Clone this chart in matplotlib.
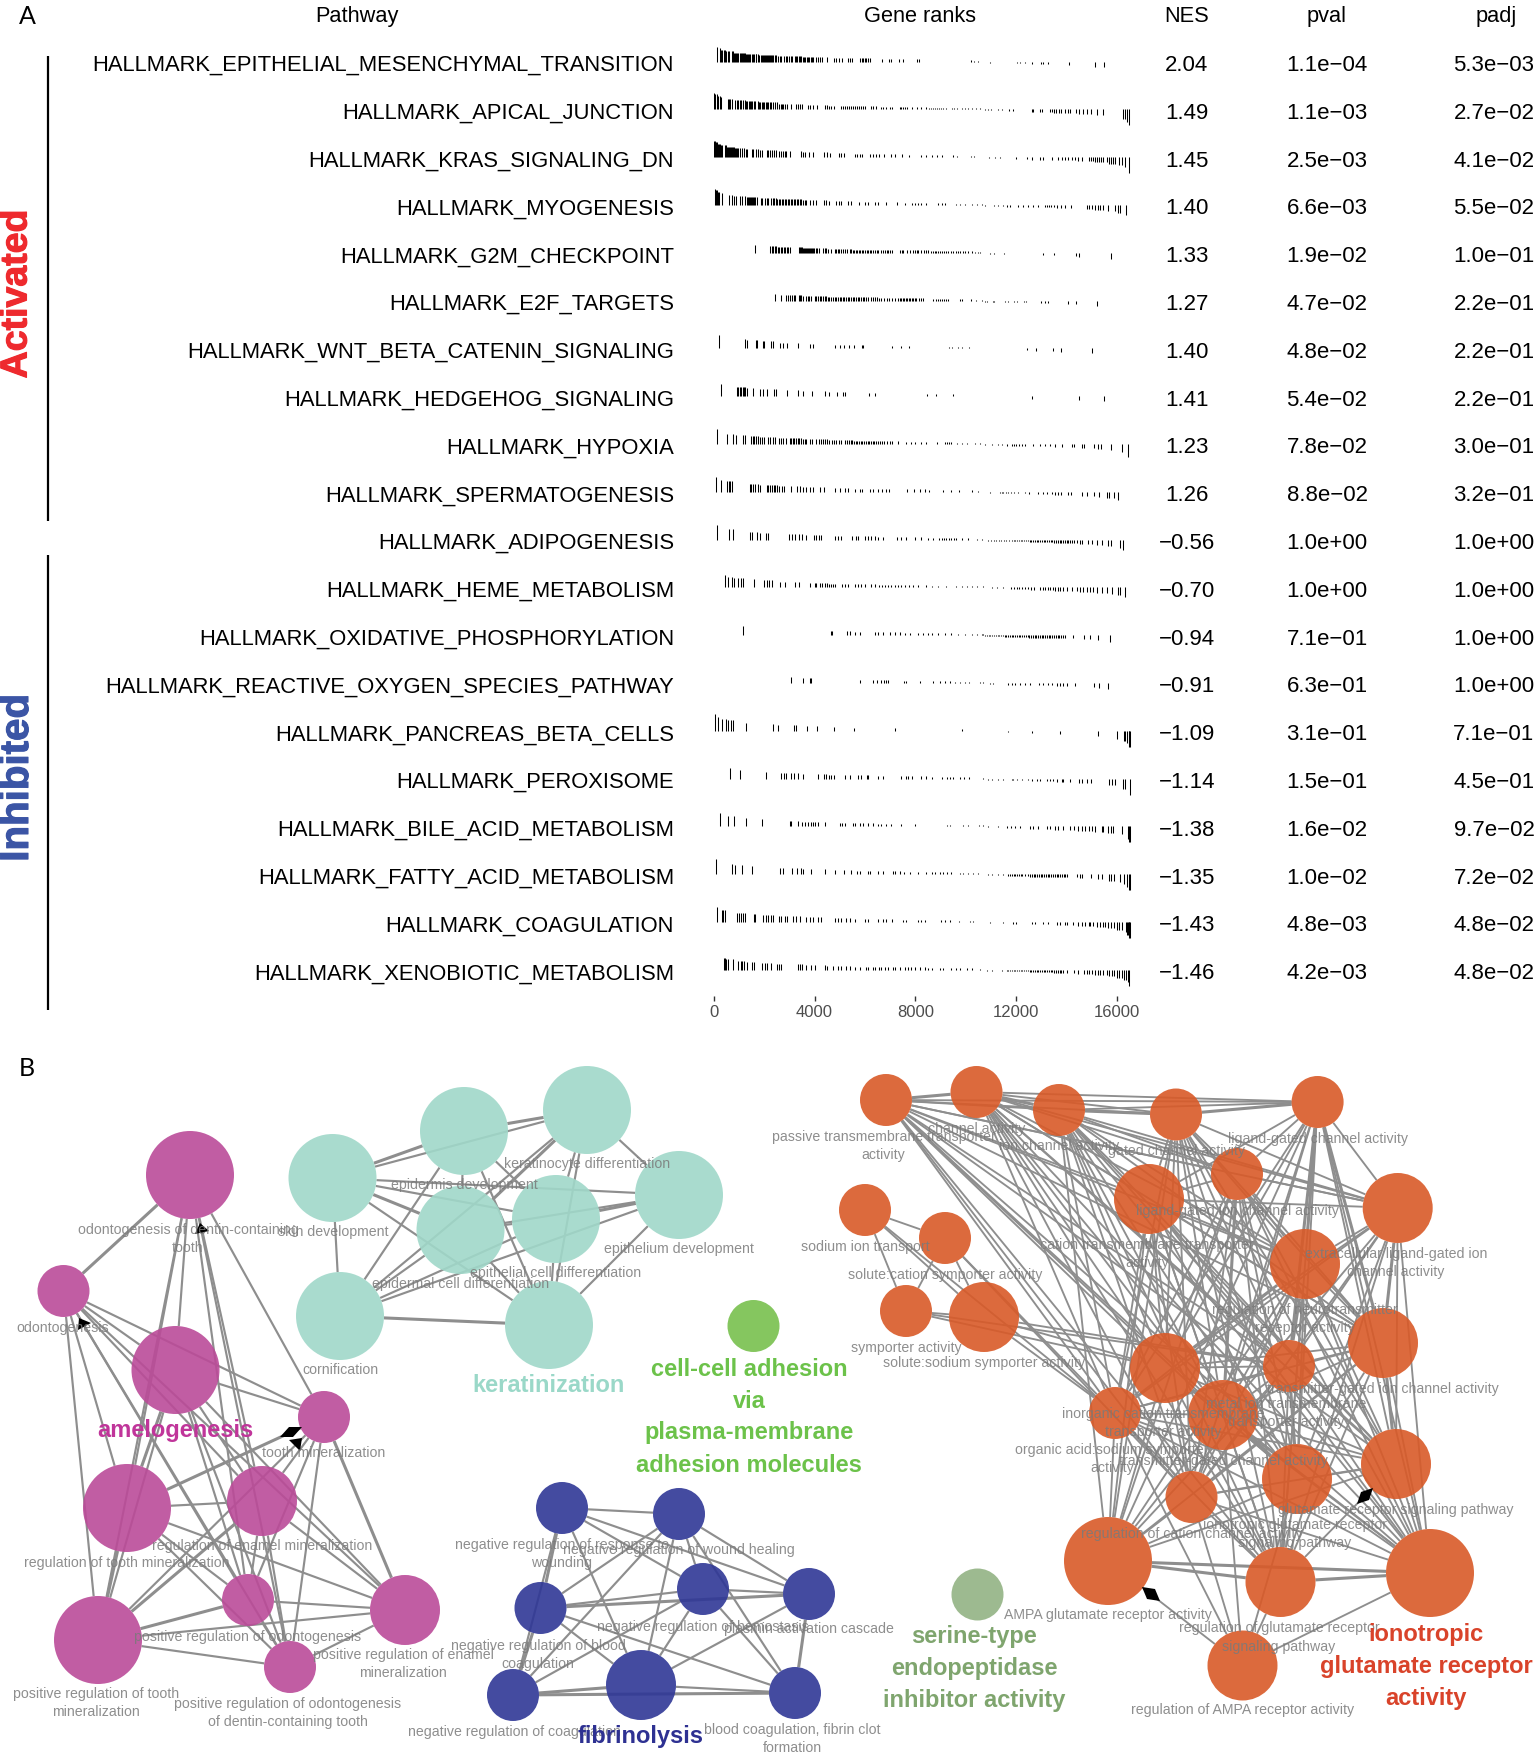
import itertools
import numpy as np
import matplotlib
matplotlib.use("Agg")
import matplotlib.pyplot as plt
import matplotlib.patheffects as pe
from matplotlib.collections import LineCollection
from matplotlib.markers import MarkerStyle
from matplotlib.patches import Circle
from matplotlib.transforms import Affine2D

W, H = 1535, 1753

PATHWAYS = ["HALLMARK_EPITHELIAL_MESENCHYMAL_TRANSITION", "HALLMARK_APICAL_JUNCTION", "HALLMARK_KRAS_SIGNALING_DN",
            "HALLMARK_MYOGENESIS", "HALLMARK_G2M_CHECKPOINT", "HALLMARK_E2F_TARGETS",
            "HALLMARK_WNT_BETA_CATENIN_SIGNALING", "HALLMARK_HEDGEHOG_SIGNALING", "HALLMARK_HYPOXIA",
            "HALLMARK_SPERMATOGENESIS", "HALLMARK_ADIPOGENESIS", "HALLMARK_HEME_METABOLISM",
            "HALLMARK_OXIDATIVE_PHOSPHORYLATION", "HALLMARK_REACTIVE_OXYGEN_SPECIES_PATHWAY",
            "HALLMARK_PANCREAS_BETA_CELLS", "HALLMARK_PEROXISOME", "HALLMARK_BILE_ACID_METABOLISM",
            "HALLMARK_FATTY_ACID_METABOLISM", "HALLMARK_COAGULATION", "HALLMARK_XENOBIOTIC_METABOLISM"]
NES = ["2.04", "1.49", "1.45", "1.40", "1.33", "1.27", "1.40", "1.41", "1.23", "1.26",
       "−0.56", "−0.70", "−0.94", "−0.91", "−1.09", "−1.14", "−1.38", "−1.35", "−1.43", "−1.46"]
PVAL = ["1.1e−04", "1.1e−03", "2.5e−03", "6.6e−03", "1.9e−02", "4.7e−02", "4.8e−02", "5.4e−02", "7.8e−02", "8.8e−02",
        "1.0e+00", "1.0e+00", "7.1e−01", "6.3e−01", "3.1e−01", "1.5e−01", "1.6e−02", "1.0e−02", "4.8e−03", "4.2e−03"]
PADJ = ["5.3e−03", "2.7e−02", "4.1e−02", "5.5e−02", "1.0e−01", "2.2e−01", "2.2e−01", "2.2e−01", "3.0e−01", "3.2e−01",
        "1.0e+00", "1.0e+00", "1.0e+00", "1.0e+00", "7.1e−01", "4.5e−01", "9.7e−02", "7.2e−02", "4.8e−02", "4.8e−02"]

METRIC_RANK = [0, 100, 200, 350, 600, 1000, 1500, 2000, 3000, 4000, 5000, 6000, 7000, 8000, 9000, 10000, 10500, 11000,
               12000, 13000, 14000, 14800, 15400, 15800, 16100, 16300, 16430, 16500]
METRIC_VAL = [16.5, 15, 13.5, 12, 10.5, 9, 8, 7, 5.8, 4.8, 3.8, 3.2, 2.8, 2.4, 1.9, 1.4, 1.0, 1.0,
              1.6, 2.4, 3.2, 4.2, 5.2, 6.3, 8, 10, 12.5, 16]
METRIC_SIGN_FLIP = 10750

R01 = [120,250,290,330,385,425,490,555,595,740,780,820,860,900,940,980,1020,1060,1100,1140,1190,1245,1285,1325,1365,1405,1445,1535,1575,1615,1655,1685,1750,1800,1855,1910,1950,1985,2025,2065,2105,2145,2185,2225,2265,2305,2345,2410,2480,2545,2610,2675,2780,2850,2915,2970,3050,3115,3205,3260,3310,3365,3420,3470,3525,3580,3630,3685,3735,3790,3840,3895,3950,4070,4135,4215,4295,4490,4770,4850,4970,5090,5325,5420,5485,5815,5870,5925,5990,6055,6120,6190,6690,6955,7020,7355,7525,8070,8135,10200,10310,10470,10970,12020,12150,12350,12640,12970,13050,13280,14085,15130,15480]
R02 = [0,65,130,185,240,280,555,610,660,715,850,915,980,1035,1085,1165,1220,1270,1325,1380,1430,1485,1535,1590,1645,1750,1790,1840,1895,1950,2000,2055,2105,2160,2215,2280,2345,2410,2490,2570,2650,2705,2755,2810,2900,3060,3260,3340,3420,3500,3735,3815,3935,4110,4400,4480,4560,4665,4755,5035,5115,5220,5300,5380,5460,5540,5620,5700,5775,5855,5935,6015,6255,6335,6450,6650,6730,6850,6985,7075,7380,7445,7525,7605,7685,7870,8055,8240,8440,8535,8610,8690,8770,8850,8930,9010,9090,9195,9460,9540,9670,9830,9965,10095,10230,10390,10560,10760,10890,11000,11290,11420,11715,11885,12615,12680,12945,13040,13345,13435,13515,13595,13700,13780,13940,14070,14140,14365,14495,14670,14800,14970,15225,15425,16220,16300,16390,16480]
R03 = [0,40,80,120,160,200,240,280,320,430,470,510,560,600,640,680,720,760,800,850,900,940,980,1030,1100,1180,1260,1320,1500,1570,1690,1750,1820,1900,2100,2170,2240,2310,2380,2450,2600,2670,2740,2810,2880,3010,3470,3550,3630,3770,3950,4370,4480,4600,4950,5060,5170,5590,5700,5790,5880,6190,6320,6450,6550,6740,7050,7180,7450,7740,8240,8440,8640,8840,9060,9500,9670,10190,10330,10920,11160,11350,11990,12420,12610,12950,13080,13430,13670,13800,13930,14070,14200,14330,14470,14600,14900,14980,15060,15130,15200,15280,15350,15430,15600,15680,15750,15830,15910,16060,16190,16300,16480]
R04 = [30,80,120,170,200,320,620,715,815,900,1020,1115,1220,1320,1360,1400,1440,1480,1520,1560,1600,1640,1700,1855,1910,2015,2095,2150,2280,2340,2400,2460,2520,2580,2640,2700,2760,2820,2880,2940,3000,3060,3120,3180,3240,3300,3360,3420,3480,3540,3600,3670,3800,3935,4070,4370,4465,4560,4860,4970,5060,5325,5430,5760,5990,6120,6385,6520,6850,7250,7580,7870,7980,8110,8240,8440,8900,9040,9170,9630,9770,9960,10230,10430,10630,10760,11130,11290,11490,11620,11750,12080,12280,12480,12680,12880,13140,13220,13300,13400,13500,13620,13780,13940,14180,14800,14890,15000,15130,15240,15340,15460,15640,15930,16030,16130,16350]
R05 = [1640,2240,2300,2360,2420,2480,2540,2600,2660,2720,2780,2840,2900,2960,3020,3370,3410,3450,3490,3530,3570,3610,3650,3690,3730,3770,3810,3850,3890,3930,3980,4040,4100,4180,4330,4400,4470,4540,4660,4800,4860,4920,4980,5060,5130,5200,5270,5390,5460,5520,5580,5640,5700,5760,5820,5880,5940,6000,6060,6120,6180,6240,6300,6380,6480,6520,6650,6720,6790,6860,6930,7000,7080,7380,7450,7520,7660,7770,7900,7980,8060,8110,8240,8340,8420,8500,8600,8700,8760,8820,8900,8960,9040,9120,9200,9280,9400,9500,9600,9700,9770,9870,9970,10100,10230,10360,10500,10560,10960,11130,11520,13080,13500,14380,14500,15770]
R06 = [2410,2650,2880,2950,3010,3100,3170,3240,3380,3430,3480,3540,3670,3730,3790,3870,4000,4070,4130,4200,4260,4330,4400,4460,4530,4590,4660,4720,4790,4860,4920,4990,5050,5120,5180,5250,5320,5380,5450,5510,5580,5640,5710,5780,5840,5910,5970,6040,6100,6220,6300,6380,6480,6560,6650,6760,6860,6960,7080,7200,7320,7380,7440,7500,7560,7620,7680,7740,7800,7860,7920,7980,8040,8130,8220,8290,8710,8800,8880,8960,9040,9120,9200,9290,9770,9850,10190,10400,10630,10760,10830,11060,11130,11570,11680,11930,12030,12320,12400,13000,13140,13270,14070,14380,15220]
R07 = [225,1220,1300,1660,1720,1950,2010,2250,2345,2640,2740,2915,3340,3815,3935,4800,5000,5170,5350,5565,5880,5935,7090,7420,7750,9340,9460,9700,9860,10120,12415,12770,13475,13770,15010]
R08 = [290,930,980,1035,1085,1140,1190,1245,1300,1575,1815,1950,2105,2385,2450,2900,3340,3550,3895,4410,4570,4875,5130,5220,6160,6410,8470,8810,9500,12640,14495,15490]
R09 = [130,515,755,890,1150,1220,1485,1550,1615,1685,1750,1830,1910,1975,2150,2215,2345,2440,2570,2650,2755,2850,3010,3070,3140,3200,3270,3340,3400,3470,3530,3600,3670,3800,3895,4070,4170,4260,4330,4410,4500,4590,4680,4770,4860,4950,5060,5190,5300,5370,5430,5500,5570,5640,5700,5770,5830,5900,5970,6030,6100,6170,6240,6300,6370,6430,6500,6580,6680,6760,6870,6980,7090,7310,7620,7820,8000,8240,8440,8860,9170,9250,9330,9430,9660,9830,10030,10360,10560,10760,11020,11290,11420,11620,11820,11900,11990,12100,12220,12350,12680,12945,13140,13340,13540,13830,14200,14310,14600,14710,15100,15240,15370,15780,16190,16430]
R10 = [90,290,515,585,650,715,1420,1485,1550,1640,1750,1815,2105,2170,2240,2305,2370,2440,2500,2600,2700,2780,3050,3310,3420,3540,3670,3800,3935,4200,4370,4800,4995,5195,5325,5590,5815,5880,6190,6320,6520,6680,6850,6940,7670,7950,8175,8375,8535,9100,9400,9725,10230,10490,10960,11355,11420,11490,11580,11680,11800,11900,12080,12350,12510,12880,13080,13210,13410,13540,13670,13780,14070,14180,14600,14810,15100,15300,15620,15700,15870,16030]
R11 = [120,585,780,1420,1510,1720,1815,2080,2150,2980,3100,3235,3365,3500,3670,3960,4070,4170,4265,4800,4930,5035,5485,5660,5725,5990,6120,6230,6385,6520,6720,7250,7445,7645,8000,8240,8505,8705,8945,9040,9130,9230,9330,9430,9530,9630,9830,10095,10430,10630,10890,11000,11100,11200,11300,11400,11500,11600,11700,11820,11900,11970,12040,12110,12180,12250,12320,12390,12460,12530,12600,12670,12740,12810,12880,12950,13020,13090,13160,13230,13300,13370,13440,13510,13580,13650,13720,13790,13860,13930,14000,14070,14140,14210,14280,14400,14530,14630,14840,15000,15210,15420,15660,15770,16100,16220]
R12 = [450,555,715,820,955,1060,1150,1615,1990,2105,2185,2320,2640,2810,3235,3365,3815,4000,4070,4200,4290,4400,4480,4560,4640,4730,4820,5090,5195,5325,5620,5725,5855,5990,6255,6385,6545,6680,6785,6915,7050,7180,7315,7445,7580,7740,7910,8110,8440,8640,8880,9195,9630,9830,10030,10230,10430,10690,11020,11220,11490,11790,11900,12020,12130,12240,12350,12460,12570,12690,12945,13050,13150,13250,13350,13450,13550,13650,13750,13850,14000,14200,14400,14530,14670,14800,14930,15060,15210,15400,15600,15800,16030,16100,16330]
R13 = [1150,4640,4690,5290,5420,5590,5790,6390,6520,6720,7010,7180,7380,7580,7780,8110,8310,8510,8640,8900,9170,9430,9700,9960,10230,10430,10630,10700,10770,10840,10910,10980,11050,11120,11190,11260,11330,11400,11470,11540,11610,11680,11750,11820,11890,11960,12030,12100,12170,12240,12310,12380,12450,12520,12590,12660,12730,12800,12870,12940,13010,13080,13150,13220,13290,13360,13430,13500,13570,13640,13710,13780,13850,13920,14270,14710,14930,15260,15730]
R14 = [3050,3540,3800,3870,5815,6320,6480,6650,6750,6830,6900,7540,7620,8200,8705,8970,9170,9370,9570,9770,9960,10120,10560,10690,10960,11090,11660,11820,11950,12150,12350,12550,12920,13080,13280,13410,13610,13740,13870,14000,14340,15100,15300,15660]
R15 = [40,185,320,465,555,690,755,1285,2345,2545,3180,3270,3710,4110,4770,5550,7180,9860,11670,12610,13740,15260,16010,16260,16320,16390,16460,16490,16500]
R16 = [660,1045,2055,2650,2770,2875,3050,3180,3340,3540,4135,4370,4470,4560,4640,4770,5210,5420,5725,5855,6080,6120,6520,6720,7420,7645,7710,7870,8240,8440,8640,9060,9235,9370,9500,9770,9940,10135,10690,10890,11050,11290,11490,11820,11885,12020,12220,12455,12615,12810,12945,13210,13340,13475,13610,13810,13870,14140,14500,14630,14800,14970,15700,15800,15930,16230,16300,16500]
R17 = [250,555,795,1285,1910,3010,3075,3340,3510,3605,3735,3840,3935,4000,4135,4400,5000,5090,5195,5525,5620,5790,5925,6120,6320,6520,6650,6850,7020,7445,7980,9260,9370,9900,10095,10520,10690,10890,11290,11620,11790,11950,12150,12550,12680,12880,13210,13340,13540,13670,13870,14140,14310,14470,14600,14730,14870,15000,15130,15400,15460,15660,15770,15860,16190,16430,16480,16500]
R18 = [90,730,850,1115,1525,2610,2740,3100,3310,3470,3540,3840,4400,4825,5170,5460,5700,5790,6120,6190,6520,6720,7115,7180,7380,7550,7780,8110,8440,8640,8770,8970,9100,9235,9430,9770,9900,10095,10295,10490,10890,11020,11260,11490,11690,11760,11830,11900,11970,12040,12110,12180,12250,12350,12450,12550,12620,12690,12760,12830,12900,12970,13040,13110,13180,13250,13320,13390,13460,13530,13600,13670,13740,13810,13880,13950,14020,14400,14530,14630,14970,15240,15420,15690,15770,15900,16130,16260,16390,16480,16500]
R19 = [120,320,360,450,930,1000,1060,1150,1220,1590,1645,1950,2080,2170,2280,2345,2570,2650,2810,2915,3140,3270,3405,3670,3800,3935,4135,4240,4825,4930,5060,5260,5390,5590,5990,6120,6520,6720,6850,7075,7510,7620,8110,8215,8375,9010,9170,9370,9725,10160,10295,10960,11490,11885,11980,12615,12745,13080,13280,13610,13740,13940,14005,14270,14470,14600,14730,14870,14930,15060,15200,15330,15460,15530,15660,15770,15900,15990,16090,16190,16350,16390,16430,16460,16480,16500]
R20 = [385,425,490,555,755,980,1060,1115,1190,1325,1510,1615,1910,2015,2120,2280,2515,2570,2650,3340,3405,3500,3670,3840,4030,4400,4505,4730,4930,5035,5260,5390,5590,5790,6055,6120,6320,6410,6545,6650,6785,6915,7115,7210,7380,7580,7710,7845,8000,8175,8375,8505,8640,8970,9100,9430,9630,9770,10030,10230,10560,10825,11020,11420,11620,11690,11760,11830,11900,11970,12040,12110,12180,12250,12320,12390,12460,12530,12600,12670,12740,12810,12880,12950,13020,13090,13160,13230,13300,13370,13440,13510,13580,13650,13720,13790,13860,14000,14310,14470,14710,14800,14870,15000,15130,15240,15340,15460,15600,15690,15800,15900,15990,16090,16190,16285,16350,16430,16480]
GENE_RANKS = [R01, R02, R03, R04, R05, R06, R07, R08, R09, R10, R11, R12, R13, R14, R15, R16, R17, R18, R19, R20]
RANK_TICKS = [0, 4000, 8000, 12000, 16000]

# Network: name -> (x, y, radius) in layout units
NODES = {
 "M1": (190, 1175, 44), "M2": (63.5, 1291, 26), "M3": (175.5, 1370, 44), "M4": (324, 1417, 26), "M5": (127, 1508, 44),
 "M6": (262, 1501, 35), "M7": (248, 1600, 26), "M8": (405, 1610, 35), "M9": (98, 1640, 44), "M10": (290, 1667, 26),
 "T1": (332.5, 1178, 44), "T2": (464, 1131, 44), "T3": (587, 1110, 44), "T4": (679, 1195, 44),
 "T5": (556, 1219, 44), "T6": (460.5, 1230, 44), "T7": (340, 1316, 44), "T8": (549, 1325, 44),
 "G1": (753.5, 1326, 26), "S1": (977.5, 1594.5, 26),
 "N1": (562, 1508, 26), "N2": (679, 1514, 26), "N3": (703, 1589, 26), "N4": (540.5, 1608, 26),
 "N5": (513, 1695, 26), "N6": (641, 1685, 35), "N7": (809, 1594, 26), "N8": (795, 1693, 26),
 "O1": (886, 1100, 26), "O2": (976.5, 1092, 26), "O3": (1059, 1110, 26), "O4": (1176, 1114.5, 26), "O5": (1317.6, 1102, 26),
 "O6": (1237, 1174, 26), "O7": (1149, 1199, 35), "O8": (1397.7, 1208, 35), "O9": (1305, 1264, 35),
 "O10": (865, 1210, 26), "O11": (945, 1238, 26), "O12": (906, 1311, 26), "O13": (984, 1317, 35),
 "O14": (1383, 1343, 35), "O15": (1165, 1368, 35), "O16": (1289, 1366, 26), "O17": (1115, 1413, 26),
 "O18": (1223, 1415, 35), "O19": (1396, 1464, 35), "O20": (1297, 1479, 35), "O21": (1191.5, 1497, 26),
 "O22": (1108, 1561, 44), "O23": (1280.5, 1582, 35), "O24": (1430, 1573, 44), "O25": (1242.5, 1665.5, 35),
}
NODE_COLORS = {"M": "#bb4b99", "T": "#a0d8c9", "G": "#78c04e", "S": "#93b384", "N": "#2f3796", "O": "#d95a28"}

MAGENTA = ["M%d" % i for i in range(1, 11)]
TEAL = ["T%d" % i for i in range(1, 9)]
NAVY = ["N%d" % i for i in range(1, 9)]
ORANGE_MAIN = ["O%d" % i for i in [1, 2, 3, 4, 5, 6, 7, 8, 9, 14, 15, 16, 17, 18, 19, 20, 21, 22, 23, 24, 25]]
SKIP_EDGES = {("M1", "M8"), ("T2", "T4"), ("N1", "N8"), ("N7", "N5"), ("O1", "O22"), ("O2", "O22"), ("O8", "O22"),
              ("O1", "O25"), ("O2", "O25"), ("O3", "O25"), ("O4", "O25"), ("O5", "O25"), ("O6", "O25"), ("O7", "O25"),
              ("O8", "O25"), ("O9", "O25"), ("O14", "O25"), ("O16", "O25"), ("O19", "O25"), ("O1", "O17"), ("O15", "O25")}
EXTRA_EDGES = [("O10", "O11"), ("O10", "O12"), ("O10", "O13"), ("O11", "O12"), ("O11", "O13"), ("O12", "O13"),
               ("O10", "O17"), ("O11", "O17"), ("O13", "O17"), ("O12", "O15"), ("O13", "O15"), ("O13", "O16"),
               ("O12", "O16"), ("O11", "O21"), ("O1", "O17")]
THICK_EDGES = {("M1", "M2"), ("M5", "M4"), ("M9", "M6"), ("M3", "M5"), ("M5", "M9"), ("M7", "M9"), ("M8", "M4"),
               ("T1", "T2"), ("T2", "T3"), ("T1", "T6"), ("T7", "T8"), ("T5", "T4"), ("T3", "T6"),
               ("N1", "N4"), ("N4", "N5"), ("N5", "N6"), ("N5", "N8"), ("N4", "N7"), ("N7", "N8"),
               ("O1", "O2"), ("O2", "O3"), ("O3", "O4"), ("O4", "O5"), ("O5", "O9"), ("O5", "O16"), ("O5", "O14"),
               ("O8", "O14"), ("O9", "O16"), ("O16", "O20"), ("O14", "O19"), ("O22", "O24"), ("O23", "O24"),
               ("O22", "O23"), ("O18", "O20"), ("O6", "O18")}
ARROWS = [("M5", "M4", "D"), ("M9", "M4", "^"), ("M10", "M1", "^"), ("M10", "M2", "^"), ("O23", "O19", "D"), ("O25", "O22", "D")]

NODE_LABELS = [
 ("odontogenesis of dentin-containing\ntooth", 188, 1239), ("skin development", 333, 1232), ("odontogenesis", 63, 1328),
 ("tooth mineralization", 324, 1453), ("regulation of enamel mineralization", 262, 1546),
 ("regulation of tooth mineralization", 127, 1563), ("positive regulation of odontogenesis", 248, 1637),
 ("positive regulation of enamel\nmineralization", 403, 1664), ("positive regulation of tooth\nmineralization", 96, 1703),
 ("positive regulation of odontogenesis\nof dentin-containing tooth", 288, 1713), ("epidermis development", 464, 1185),
 ("keratinocyte differentiation", 587, 1164), ("epithelium development", 679, 1249),
 ("epithelial cell differentiation", 556, 1273), ("epidermal cell differentiation", 460.5, 1284), ("cornification", 340, 1370),
 ("negative regulation of response to\nwounding", 562, 1554), ("negative regulation of wound healing", 679, 1550),
 ("negative regulation of hemostasis", 703, 1627), ("negative regulation of blood\ncoagulation", 538, 1655),
 ("negative regulation of coagulation", 514, 1732), ("blood coagulation, fibrin clot\nformation", 792, 1739),
 ("plasmin activation cascade", 809, 1629.5), ("AMPA glutamate receptor activity", 1108, 1615.5),
 ("passive transmembrane transporter\nactivity", 883.6, 1146), ("channel activity", 976.5, 1129),
 ("ion channel activity", 1059, 1146), ("gated channel activity", 1176, 1151), ("ligand-gated channel activity", 1317.6, 1138.6),
 ("ligand-gated ion channel activity", 1237, 1210.5), ("cation transmembrane transporter\nactivity", 1147, 1254),
 ("extracellular ligand-gated ion\nchannel activity", 1396, 1263), ("sodium ion transport", 865, 1247),
 ("solute:cation symporter activity", 945, 1274.5), ("symporter activity", 906, 1348),
 ("solute:sodium symporter activity", 984, 1363), ("regulation of neurotransmitter\nreceptor activity", 1305, 1319),
 ("transmitter-gated ion channel activity", 1383, 1388.6), ("metal ion transmembrane\ntransporter activity", 1286, 1413),
 ("inorganic cation transmembrane\ntransporter activity", 1163, 1423), ("organic acid:sodium symporter\nactivity", 1112, 1459),
 ("transmitter-gated channel activity", 1223, 1460.5), ("glutamate receptor signaling pathway", 1396, 1510),
 ("ionotropic glutamate receptor\nsignaling pathway", 1295, 1534), ("regulation of cation channel activity", 1191.5, 1534),
 ("regulation of glutamate receptor\nsignaling pathway", 1279, 1637.6), ("regulation of AMPA receptor activity", 1242.5, 1710),
]
CLUSTER_LABELS = [
 (["amelogenesis"], 175.5, 1431, "#c0359a"), (["keratinization"], 549, 1386, "#9ad8c8"),
 (["cell-cell adhesion", "via", "plasma-membrane", "adhesion molecules"], 749, 1369, "#6cc24a"),
 (["fibrinolysis"], 641, 1737, "#2e3192"),
 (["serine-type", "endopeptidase", "inhibitor activity"], 974, 1637, "#7fa56e"),
 (["ionotropic", "glutamate receptor", "activity"], 1426, 1634, "#d9432a"),
]

plt.rcParams["font.family"] = ["Liberation Sans", "DejaVu Sans"]
fig = plt.figure(figsize=(W / 100, H / 100), dpi=100)

# page axes: layout units equal pixels
ax = fig.add_axes([0, 0, 1, 1])
ax.set_xlim(0, W)
ax.set_ylim(H, 0)
ax.axis("off")

ROW_Y0, ROW_STEP = 64.0, 47.8
BASE_OFFSET = -2.4
row_y = [ROW_Y0 + i * ROW_STEP for i in range(len(PATHWAYS))]

ax.text(27, 16, "A", family="Lato", fontsize=18, ha="center", va="center", color="black")
ax.text(27, 1068, "B", family="Lato", fontsize=18, ha="center", va="center", color="black")
for txt, x in [("Pathway", 357), ("Gene ranks", 920), ("NES", 1187), ("pval", 1327), ("padj", 1496)]:
    ax.text(x, 16.5, txt, fontsize=15.7, ha="center", va="center", color="black")
for i, y in enumerate(row_y):
    ax.text(674, y + 1.5, PATHWAYS[i], fontsize=15.8, ha="right", va="center", color="black")
    ax.text(1187, y + 1.5, NES[i], fontsize=16, ha="center", va="center", color="black")
    ax.text(1327, y + 1.5, PVAL[i], fontsize=16, ha="center", va="center", color="black")
    ax.text(1494, y + 1.5, PADJ[i], fontsize=16, ha="center", va="center", color="black")

ax.plot([47.5, 47.5], [56, 521], color="black", lw=1.6, solid_capstyle="butt")
ax.plot([47.5, 47.5], [555, 1010], color="black", lw=1.6, solid_capstyle="butt")
stroke_red = [pe.withStroke(linewidth=0.8, foreground="#ee2a2e")]
stroke_blue = [pe.withStroke(linewidth=0.8, foreground="#3b55a5")]
ax.text(16.5, 294, "Activated", rotation=90, fontsize=27, fontweight="bold", color="#ee2a2e", ha="center", va="center",
        path_effects=stroke_red)
ax.text(17, 778, "Inhibited", rotation=90, fontsize=29, fontweight="bold", color="#3b55a5", ha="center", va="center",
        path_effects=stroke_blue)

# gene-rank axes: x = rank, y = layout units
X0, X_PER_RANK = 713.8, 100.8 / 4000
rx_left = X0
rx_right = X0 + 16600 * X_PER_RANK
rtop, rbot = 30, 996
rax = fig.add_axes([rx_left / W, 1 - rbot / H, (rx_right - rx_left) / W, (rbot - rtop) / H])
rax.set_xlim(0, 16600)
rax.set_ylim(rbot, rtop)
rax.patch.set_alpha(0)
for s in rax.spines.values():
    s.set_visible(False)
rax.yaxis.set_visible(False)
rax.set_xticks(RANK_TICKS)
rax.set_xticklabels([str(t) for t in RANK_TICKS])
rax.tick_params(axis="x", length=3.5, width=1.0, color="#333333", labelcolor="#4d4d4d", labelsize=12, pad=3)

m_rank = np.array(METRIC_RANK)
m_val = np.array(METRIC_VAL)
for y, ranks in zip(row_y, GENE_RANKS):
    ranks = np.array(ranks)
    idx = np.abs(ranks[:, None] - m_rank[None, :]).argmin(axis=1)
    sign = np.where(ranks < METRIC_SIGN_FLIP, 1.0, -1.0)
    base = y + BASE_OFFSET
    rax.vlines(ranks, base, base - sign * m_val[idx], color="black", lw=0.75)

# network edges, stopped at the rim of both end nodes
edges = []
for group in (MAGENTA, TEAL, NAVY, ORANGE_MAIN):
    for a, b in itertools.combinations(group, 2):
        if (a, b) not in SKIP_EDGES and (b, a) not in SKIP_EDGES:
            edges.append((a, b))
edges += EXTRA_EDGES
segs = []
for a, b in edges:
    xa, ya, ra = NODES[a]
    xb, yb, rb = NODES[b]
    d = np.hypot(xb - xa, yb - ya)
    ux, uy = (xb - xa) / d, (yb - ya) / d
    segs.append([(xa + ux * ra, ya + uy * ra), (xb - ux * rb, yb - uy * rb)])
widths = [2.2 if ((a, b) in THICK_EDGES or (b, a) in THICK_EDGES) else (1.55 if a[0] != "O" else 1.35) for a, b in edges]
ax.add_collection(LineCollection(segs, colors="#8e8e8e", linewidths=widths, zorder=2))

for name, (x, y, r) in NODES.items():
    ax.add_patch(Circle((x, y), r, facecolor=NODE_COLORS[name[0]], edgecolor="none", alpha=0.9, zorder=3))

for a, b, kind in ARROWS:
    xa, ya = NODES[a][:2]
    xb, yb, rb = NODES[b]
    dx, dy = xa - xb, ya - yb
    d = np.hypot(dx, dy)
    px, py = xb + dx / d * (rb + 10), yb + dy / d * (rb + 10)
    angle = np.degrees(np.arctan2(-dy, dx))
    if kind == "D":
        tr = Affine2D().scale(1.5, 0.75).rotate_deg(angle)
    else:
        tr = Affine2D().scale(1.3, 0.9).rotate_deg(angle + 90)
    ax.plot([px], [py], marker=MarkerStyle(kind, transform=tr), color="black", ms=8, mew=0, zorder=4)

for txt, x, y in NODE_LABELS:
    ax.text(x, y, txt, fontsize=10.2, color="#7a7a7a", alpha=0.85, ha="center", va="center",
            linespacing=1.42, zorder=5)
for lines, x, y, color in CLUSTER_LABELS:
    for k, line in enumerate(lines):
        ax.text(x, y + k * 32, line, fontsize=17, fontweight="bold", color=color, ha="center", va="center", zorder=6)

fig.savefig("out.png", dpi=100)
